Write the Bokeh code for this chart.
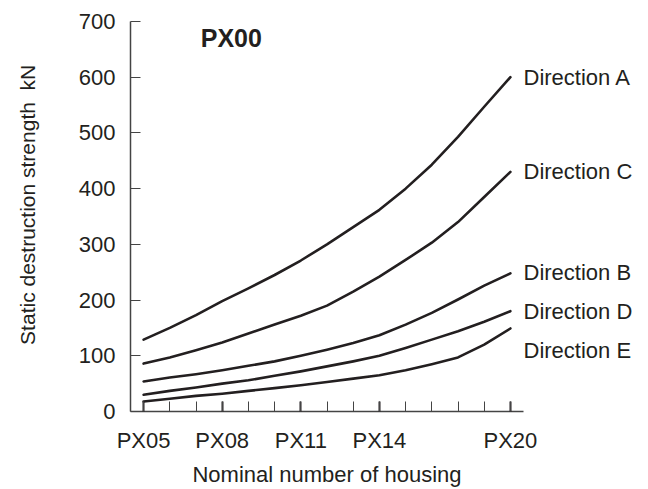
import math
from bokeh.plotting import figure
from bokeh.models import Range1d, FixedTicker, Label, LinearAxis
from bokeh.embed import file_html
from bokeh.resources import INLINE

# ---------------- data ----------------
housing = ["PX05", "PX06", "PX07", "PX08", "PX09", "PX10", "PX11", "PX12",
           "PX13", "PX14", "PX15", "PX16", "PX17", "PX18", "PX20"]
labeled_housing = ["PX05", "PX08", "PX11", "PX14", "PX20"]

direction_a = [129, 150, 173, 198, 221, 245, 271, 300, 331, 362, 400, 443, 493, 547, 600]
direction_c = [86, 97, 110, 124, 140, 156, 172, 190, 215, 242, 272, 303, 340, 385, 430]
direction_b = [54, 61, 67, 74, 82, 90, 100, 111, 123, 137, 156, 177, 201, 226, 248]
direction_d = [30, 37, 43, 50, 56, 64, 72, 81, 90, 100, 114, 129, 144, 161, 180]
direction_e = [18, 23, 28, 32, 37, 42, 47, 53, 59, 65, 74, 85, 97, 120, 149]

series_names = ["Direction A", "Direction C", "Direction B", "Direction D", "Direction E"]
series_values = [direction_a, direction_c, direction_b, direction_d, direction_e]
label_heights = [600, 430, 250, 180, 110]   # where each end label sits (kN)

y_ticks = [0, 100, 200, 300, 400, 500, 600, 700]
y_label = "Static destruction strength"
y_unit = "kN"
x_label = "Nominal number of housing"
chart_title = "PX00"

# ---------------- styling ----------------
INK = "#231f20"
AX = "#444444"
FONT = "Liberation Sans"
FS = "22px"
NBSP = "\u00a0"

x_idx = list(range(len(housing)))
n = len(housing)

p = figure(width=648, height=489, output_backend="svg", toolbar_location=None,
           x_range=Range1d(-0.5, n - 0.5), y_range=Range1d(y_ticks[0], y_ticks[-1]))
p.min_border_left = 130
p.min_border_right = 125
p.min_border_top = 21
p.min_border_bottom = 77
p.outline_line_color = None
p.xgrid.visible = False
p.ygrid.visible = False
p.background_fill_color = "white"
p.border_fill_color = "white"

for vals in series_values:
    p.line(x_idx, vals, line_color=INK, line_width=2.6, line_join="round", line_cap="round")

# chart title inside plot
p.add_layout(Label(x=2.18, y=670, text=chart_title, text_font=FONT, text_font_size="25px",
                   text_font_style="bold", text_color=INK, text_baseline="middle",
                   text_align="left"))

# x axis
xa = p.xaxis[0]
major_idx = [housing.index(h) for h in labeled_housing]
xa.ticker = FixedTicker(ticks=major_idx, minor_ticks=x_idx)
xa.major_label_overrides = {i: housing[i] for i in major_idx}
xa.major_tick_in = 10
xa.major_tick_out = 0
xa.minor_tick_in = 10
xa.minor_tick_out = 0
xa.major_tick_line_width = 2
xa.minor_tick_line_width = 1
xa.major_tick_line_color = INK
xa.minor_tick_line_color = AX
xa.axis_line_color = AX
xa.axis_line_width = 1.5
xa.major_label_text_font = FONT
xa.major_label_text_font_size = FS
xa.major_label_text_color = INK
xa.major_label_standoff = 16
xa.axis_label = x_label
xa.axis_label_text_font = FONT
xa.axis_label_text_font_size = FS
xa.axis_label_text_font_style = "normal"
xa.axis_label_text_color = INK
xa.axis_label_standoff = 6

# y axis
ya = p.yaxis[0]
ya.ticker = FixedTicker(ticks=y_ticks, minor_ticks=[])
ya.major_tick_in = 10
ya.major_tick_out = 0
ya.minor_tick_in = 0
ya.minor_tick_out = 0
ya.major_tick_line_color = AX
ya.major_tick_line_width = 1.2
ya.axis_line_color = AX
ya.axis_line_width = 1.5
ya.major_label_text_font = FONT
ya.major_label_text_font_size = FS
ya.major_label_text_color = INK
ya.major_label_standoff = 15
# leading no-break spaces nudge the centred label up, as in the original
ya.axis_label = NBSP * 4 + y_label + NBSP * 2 + y_unit
ya.axis_label_text_font = FONT
ya.axis_label_text_font_size = "21px"
ya.axis_label_text_font_style = "normal"
ya.axis_label_text_color = INK
ya.axis_label_standoff = 37

# end-of-line labels as a bare right axis
ra = LinearAxis(ticker=FixedTicker(ticks=label_heights, minor_ticks=[]),
                major_label_overrides={h: s for h, s in zip(label_heights, series_names)})
ra.axis_line_color = None
ra.major_tick_line_color = None
ra.minor_tick_line_color = None
ra.major_tick_in = 0
ra.major_tick_out = 0
ra.major_label_standoff = 0
ra.major_label_text_font = FONT
ra.major_label_text_font_size = FS
ra.major_label_text_color = INK
p.add_layout(ra, "right")

open("out.html", "w").write(file_html(p, INLINE))
